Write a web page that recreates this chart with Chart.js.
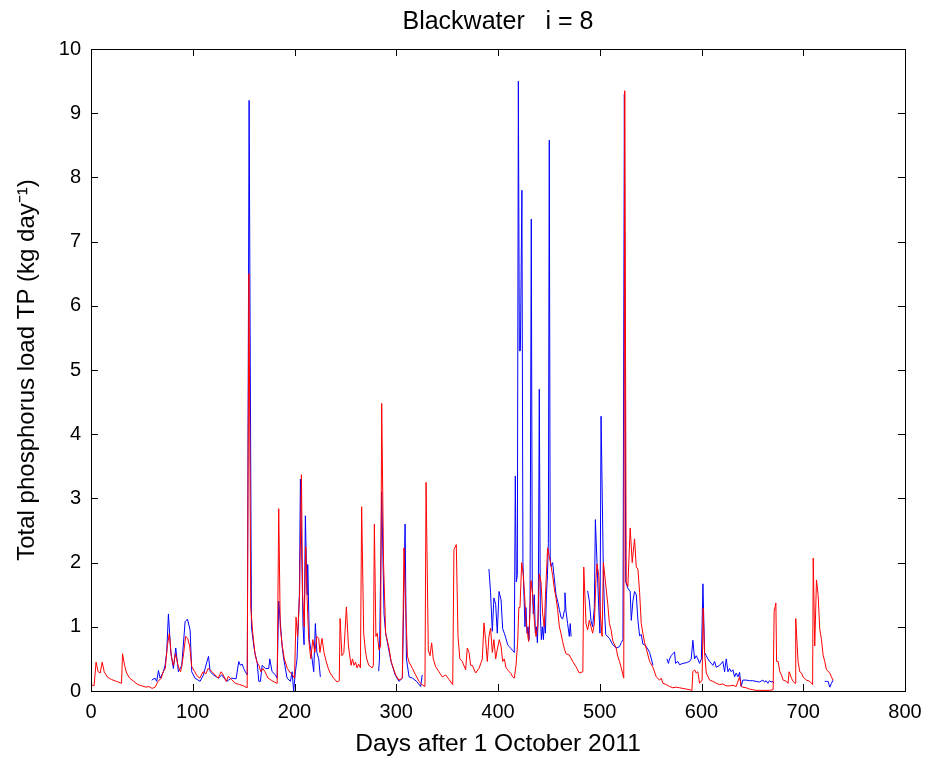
<!DOCTYPE html>
<html>
<head>
<meta charset="utf-8">
<title>Blackwater i = 8</title>
<script src="https://cdn.jsdelivr.net/npm/chart.js@4.4.1/dist/chart.umd.min.js"></script>
<style>
  html, body { margin: 0; padding: 0; background: #fff; }
  #wrap { width: 933px; height: 759px; }
</style>
</head>
<body>
<div id="wrap"><canvas id="tpChart" width="933" height="759"></canvas></div>
<script>
// days after 1 October 2011 and TP load (kg/day)
const redDays = [0, 3, 5, 7, 9, 11, 13, 16, 20, 25, 30, 31, 33, 35, 38, 42, 46, 50, 54, 57, 60, 63, 66, 69, 71, 73, 75, 77, 79, 81, 83, 86, 88, 89, 91, 93, 95, 97, 99, 102, 104, 107, 110, 113, 115, 117, 119, 122, 125, 128, 130, 133, 135, 138, 142, 146, 150, 153.5,
  155.2, 157, 159, 161, 163, 165, 167, 169, 171, 174, 177, 180, 183, 184.5, 186, 188, 190, 193, 196, 198, 200, 201.5, 203, 205, 206.8, 208, 209.5, 211, 212.5, 214, 216, 218, 220, 222, 223.8, 225, 227, 229, 231, 233, 235, 238.5, 241.8, 244, 244.8, 246.6, 248.5, 251, 253, 255.6, 257, 258.5, 260, 261.5, 263, 264.8,
  266, 268, 269.6, 271, 273, 276.3, 277.5, 278.5, 280, 281.4, 283, 284.6, 285.7, 287.5, 289.6, 291, 292.5, 295, 299.4, 302.6, 306, 307.6, 309.5, 311, 312.6, 316, 319, 322.4, 325, 328.2, 329.3, 331.5, 333.2, 334.8, 336.4, 338.7, 342, 345.3, 348.5, 351.9, 355.5, 356.7, 359, 360.7, 362.5, 364.9, 368.2, 369.8, 371.5, 373.1, 374.8, 378, 381.3, 384.6, 386.2, 387.8, 389.5, 391.1, 392.7, 394.4, 396, 397.7, 399.3,
  401.3, 403, 404.6, 406.2, 407.8, 409.5, 411.1, 412.8, 414.4, 416, 417.7, 419.3, 420.5, 421.6, 423.3, 424.9, 425.9, 427.5, 429.1, 430.1, 430.8, 432.4, 434.1, 435.7, 437.3, 439, 440.6, 442.3, 443.9, 445.5, 447.2, 448.8, 450.4, 452.1, 453.7, 455.3, 457, 458.6, 460.3, 461.9, 463.5, 465.2, 466.8, 470.1, 473.4, 476.6, 479.9, 483.4, 484.3, 486.5, 488.1, 489.8, 491.4, 493, 494.7, 496.3, 497.3, 499, 500.6, 502.3, 503.6, 505.6, 507.9, 509.5, 511.2, 512.8, 516.1, 517.7, 519.4, 521, 523.6,
  524.6, 526, 527.6, 529.9, 531.9, 534.2, 535.9, 537.5, 539.2, 540.8, 542.4, 544.1, 545.7, 549, 552.3, 555.5, 558.8, 560.4, 562.1, 565.3, 568.6, 571.9, 575.2, 578.4, 581.7, 585, 588.3, 590.6, 591.5, 593.2, 594.8, 596.4, 598.1, 600.6, 601.6, 603, 604.7, 608, 611.2, 614.5, 617.8, 621, 624.3, 627.6, 630.9, 634.1, 637.4, 639, 640.6, 643.9, 647.2, 650.5, 653.7, 657, 660.3, 663.5, 666.8, 670.4,
  671.4, 673.1, 673.8, 675.3, 677, 678.6, 680.2, 683.5, 685.1, 686.1, 688.4, 690, 691.9, 692.6, 694.9, 696.6, 698.2, 699.8, 703.1, 706.4, 709.2, 709.8, 711.3, 713, 714.6, 716.2, 717.9, 719.5, 721.1, 722.8, 726.1, 727.7, 729.3];
const redLoad = [0.1, 0.08, 0.45, 0.3, 0.28, 0.45, 0.3, 0.22, 0.18, 0.15, 0.12, 0.58, 0.4, 0.28, 0.2, 0.15, 0.1, 0.08, 0.06, 0.07, 0.04, 0.06, 0.15, 0.2, 0.3, 0.35, 0.7, 0.9, 0.54, 0.4, 0.58, 0.37, 0.3, 0.37, 0.58, 0.85, 0.82, 0.7, 0.38, 0.3, 0.24, 0.2, 0.3, 0.27, 0.35, 0.33, 0.3, 0.25, 0.2, 0.3, 0.25, 0.15, 0.23, 0.18, 0.12, 0.1, 0.08, 0.05,
  6.5, 1.3, 0.9, 0.6, 0.45, 0.4, 0.3, 0.35, 0.3, 0.2, 0.17, 0.14, 0.12, 2.84, 1.0, 0.7, 0.5, 0.35, 0.28, 0.25, 0.2, 1.15, 0.85, 1.5, 3.37, 1.5, 1.0, 2.25, 1.4, 0.8, 0.5, 0.8, 0.6, 0.85, 0.82, 0.6, 0.82, 0.6, 0.47, 0.36, 0.28, 0.2, 0.14, 0.16, 1.13, 0.55, 0.6, 1.31, 0.7, 0.4, 0.5, 0.4, 0.45, 0.36, 0.42, 0.36,
  2.87, 0.9, 0.64, 0.5, 0.4, 0.36, 0.4, 2.6, 0.85, 0.9, 0.64, 0.7, 4.48, 2.0, 0.9, 0.8, 0.7, 0.46, 0.25, 0.17, 0.2, 2.23, 1.2, 0.54, 0.45, 0.35, 0.25, 0.15, 0.1, 0.07, 3.25, 0.64, 0.55, 0.75, 0.5, 0.38, 0.3, 0.22, 0.25, 0.18, 0.1, 2.2, 2.28, 0.85, 0.5, 0.46, 0.33, 0.67, 0.6, 0.4, 0.4, 0.28, 0.35, 0.5, 1.06, 0.8, 0.46, 0.85, 0.98, 0.6, 0.8, 0.5, 0.65,
  0.8, 0.7, 0.46, 0.5, 0.37, 0.33, 0.3, 0.27, 0.22, 0.2, 0.4, 0.75, 1.3, 1.3, 2.0, 1.8, 1.56, 1.1, 0.88, 0.77, 0.97, 1.72, 1.5, 1.1, 0.85, 1.0, 1.82, 1.7, 1.2, 1.0, 1.7, 2.23, 2.1, 1.95, 1.8, 1.6, 1.45, 1.27, 1.0, 0.9, 0.77, 0.66, 0.58, 0.56, 0.46, 0.38, 0.28, 0.3, 1.93, 1.05, 0.95, 1.1, 1.0, 0.9, 1.05, 1.75, 1.98, 1.8, 1.2, 0.85, 2.0, 1.7, 1.35, 1.05, 0.95, 0.78, 0.67, 0.54, 0.46, 0.37, 0.2,
  9.35, 1.7, 1.63, 2.54, 2.0, 2.37, 1.93, 1.9, 1.53, 1.05, 0.9, 0.75, 0.66, 0.46, 0.37, 0.22, 0.17, 0.2, 0.12, 0.1, 0.07, 0.05, 0.06, 0.05, 0.04, 0.03, 0.02, 0.01, 0.3, 0.33, 0.28, 0.3, 0.12, 0.17, 1.29, 0.6, 0.28, 0.17, 0.15, 0.12, 0.1, 0.11, 0.08, 0.08, 0.09, 0.07, 0.22, 0.07, 0.06, 0.05, 0.03, 0.02, 0.01, 0.01, 0.01, 0.01, 0.01, 0.02,
  1.24, 1.37, 0.46, 0.46, 0.3, 0.25, 0.17, 0.15, 0.12, 0.3, 0.2, 0.15, 0.12, 1.13, 0.46, 0.3, 0.28, 0.22, 0.17, 0.15, 0.1, 2.07, 0.7, 1.73, 1.5, 0.97, 0.8, 0.56, 0.46, 0.33, 0.28, 0.22, 0.17];

// null = no blue value (gap in the line)
const blueDays = [59.7, 63, 64.6, 66.3, 67.9, 69.5, 71.2, 72.8, 74.4, 76.1, 78.4, 81, 83.3, 85.9, 89.2, 92.5, 94.8, 97.4, 99, 102.3, 107.2, 110.5, 113.8, 115.5, 117.1, 120.4, 125.3, 128.5, 133.4, 138, 142.6, 145.2, 146.8, 148.5, 150.1, 151.7, 153.6,
  155.4, 157.7, 160, 161.6, 163.3, 164.9, 166.5, 168.2, 171.4, 174.7, 175.7, 178, 181.3, 182.9, 184.5, 187.8, 189.4, 192.7, 196, 197.6, 199.2, 200.9, 202.5, 204.8, 205.8, 208.4, 209.4, 210.7, 212.3, 213, 214.6, 217.3, 218.9, 220.5, 222, 223.8, 225.4, 226,
  282.7, 283.5, 285.7, 288, 289.6, 292, 295, 299, 302.6, 306, 308.7, 310, 312.6, 316, 320, 324, 325.5, 326,
  391.1, 392.7, 394.4, 396, 397.7, 399.3, 401, 403, 404.6, 406.2, 407.8, 409.5, 411.1, 412.8, 414.4, 416, 417, 418, 419, 420, 421, 422, 423.5, 424.5, 425.5, 426.5, 427.5, 428.5, 429.5, 430.5, 431.5, 432.7, 433.7, 434.7, 435.7, 436.7, 437.7, 438.7, 439.6, 440.6, 441.6, 442.6, 443.6, 444.6, 445.6, 446.6, 447.6, 448.6, 449.5, 450.4, 451.3, 452.1, 453.7, 455.3, 457, 458.6, 460.3, 461.9, 463.5, 465.2, 465.8, 466.8, 468.4, 470.1, 471, 471.8, 472.5,
  488.1, 489.8, 491.4, 493, 494.7, 495.7, 497.3, 499, 500.2, 501.3, 503.6, 504.8, 505.9, 509.5, 512.8, 516.1, 519.4, 521, 522.8, 524.2, 525.5, 527.6, 529.9, 531, 532.6, 534.2, 535.9, 537.5, 539.2, 540.8, 542.4, 544.1, 545.7, 547.4, 549, 550.7, 552.3, 553,
  566, 567.5, 568.6, 570.2, 571.9, 573.5, 574.5, 576.8, 578.4, 581.7, 585, 588.3, 589.9, 591.5, 593.2, 594.8, 596.4, 598.1, 599.9, 601.4, 603, 604.7, 606.3, 608, 611.2, 612.9, 614.5, 617.8, 621, 622.7, 624.3, 626, 627.6, 629.2, 630.9, 632.5, 634.1, 635.8, 637.4, 639, 640.6, 643.9, 647.2, 650.5, 653.7, 657, 660.3, 661.9, 663.5, 665.2, 666.8, 668.4, 670.1, 671, 672,
  721.1, 722.8, 724.4, 726.1, 727.7, 729.3];
const blueLoad = [0.17, 0.2, 0.15, 0.32, 0.2, 0.25, 0.3, 0.4, 0.6, 1.2, 0.6, 0.35, 0.67, 0.3, 0.4, 1.08, 1.12, 0.95, 0.3, 0.2, 0.15, 0.25, 0.45, 0.54, 0.3, 0.25, 0.2, 0.25, 0.15, 0.2, 0.19, 0.46, 0.4, 0.42, 0.35, 0.3, 0.25,
  9.2, 1.0, 0.7, 0.55, 0.45, 0.15, 0.15, 0.4, 0.35, 0.35, 0.5, 0.3, 0.25, 0.2, 1.4, 0.7, 0.5, 0.2, 0.15, 0.3, 0.0, 0.3, 0.5, 1.5, 3.3, 1.0, 0.72, 2.73, 1.5, 1.97, 0.8, 0.5, 0.3, 1.05, 0.6, 0.5, 0.22, null,
  0.31, 0.5, 3.1, 1.2, 0.9, 0.7, 0.45, 0.25, 0.15, 0.2, 2.6, 0.5, 0.22, 0.2, 0.15, 0.07, 0.25, null,
  1.9, 1.53, 0.93, 1.45, 1.35, 0.9, 1.55, 1.42, 0.97, 0.9, 0.82, 0.72, 0.69, 0.66, 0.63, 0.6, 3.35, 1.7, 1.8, 9.5, 5.3, 5.3, 7.8, 2.0, 1.5, 1.0, 1.3, 0.9, 1.0, 0.8, 1.4, 7.35, 1.6, 1.2, 1.5, 0.9, 1.0, 0.75, 1.2, 4.7, 1.2, 0.8, 1.0, 0.8, 1.1, 0.9, 1.5, 1.8, 2.3, 8.58, 2.1, 1.94, 2.0, 1.76, 1.5, 1.4, 1.27, 1.15, 1.12, 1.25, 1.53, 1.25, 1.05, 0.85, 1.05, 0.85, null,
  1.56, 1.4, 1.1, 1.0, 1.3, 2.67, 2.0, 1.3, 0.9, 4.28, 1.8, 1.2, 0.88, 0.82, 0.72, 0.67, 0.69, 0.75, 0.8, 9.3, 1.7, 1.6, 1.55, 1.1, 1.4, 1.55, 1.5, 1.1, 0.86, 0.88, 0.73, 0.72, 0.69, 0.65, 0.6, 0.5, 0.4, null,
  0.5, 0.43, 0.5, 0.55, 0.58, 0.61, 0.43, 0.46, 0.41, 0.43, 0.44, 0.46, 0.5, 0.79, 0.5, 0.55, 0.5, 0.43, 0.5, 1.67, 0.6, 0.55, 0.5, 0.46, 0.4, 0.46, 0.37, 0.4, 0.46, 0.3, 0.5, 0.3, 0.35, 0.3, 0.33, 0.22, 0.28, 0.22, 0.29, 0.07, 0.17, 0.17, 0.16, 0.16, 0.15, 0.14, 0.17, 0.14, 0.16, 0.12, 0.16, 0.14, 0.15, 0.12, null,
  0.15, 0.15, 0.15, 0.06, 0.12, 0.17];

const xTicks = [0, 100, 200, 300, 400, 500, 600, 700, 800];
const yTicks = [0, 1, 2, 3, 4, 5, 6, 7, 8, 9, 10];
const chartTitle = 'Blackwater   i = 8';

function toPoints(days, vals) {
    return days.map((d, i) => ({ x: d, y: vals[i] }));
}

// MATLAB-like box with inward ticks on all four sides, title over the plot box
const boxTicks = {
    id: 'boxTicks',
    afterDatasetsDraw(chart) {
        const { ctx, chartArea: a, scales: { x, y } } = chart;
        const len = 7;
        ctx.save();
        ctx.strokeStyle = '#000';
        ctx.lineWidth = 1;
        ctx.beginPath();
        xTicks.forEach(v => {
            const px = Math.round(x.getPixelForValue(v)) + 0.5;
            ctx.moveTo(px, a.bottom); ctx.lineTo(px, a.bottom - len);
            ctx.moveTo(px, a.top); ctx.lineTo(px, a.top + len);
        });
        yTicks.forEach(v => {
            const py = Math.round(y.getPixelForValue(v)) + 0.5;
            ctx.moveTo(a.left, py); ctx.lineTo(a.left + len, py);
            ctx.moveTo(a.right, py); ctx.lineTo(a.right - len, py);
        });
        ctx.stroke();
        ctx.strokeRect(Math.round(a.left) + 0.5, Math.round(a.top) + 0.5,
            Math.round(a.right - a.left), Math.round(a.bottom - a.top));

        ctx.fillStyle = '#000';
        ctx.font = '25px "Liberation Sans", Arial, sans-serif';
        ctx.textAlign = 'center';
        ctx.textBaseline = 'middle';
        ctx.fillText(chartTitle, (a.left + a.right) / 2, 22);
        ctx.restore();
    }
};

Chart.defaults.color = '#000';
Chart.defaults.font.family = '"Liberation Sans", Arial, sans-serif';

new Chart(document.getElementById('tpChart'), {
    type: 'line',
    data: {
        datasets: [
            {
                label: 'red',
                data: toPoints(redDays, redLoad),
                borderColor: '#ff0000',
                borderWidth: 1,
                pointRadius: 0,
                tension: 0
            },
            {
                label: 'blue',
                data: toPoints(blueDays, blueLoad),
                borderColor: '#0000ff',
                borderWidth: 1,
                pointRadius: 0,
                tension: 0,
                spanGaps: false
            }
        ]
    },
    options: {
        responsive: false,
        animation: false,
        events: [],
        layout: { padding: { left: 0, right: 28, top: 49, bottom: 0 } },
        plugins: {
            legend: { display: false },
            tooltip: { enabled: false },
            title: { display: false }
        },
        scales: {
            x: {
                type: 'linear',
                min: 0,
                max: 800,
                afterBuildTicks: s => { s.ticks = xTicks.map(v => ({ value: v })); },
                afterFit: s => { s.height = 68; },
                grid: { display: false, drawTicks: false },
                border: { display: false },
                ticks: { font: { size: 20 }, padding: 9, maxRotation: 0 },
                title: {
                    display: true,
                    text: 'Days after 1 October 2011',
                    font: { size: 24.5 },
                    padding: { top: 0, bottom: 0 }
                }
            },
            y: {
                type: 'linear',
                min: 0,
                max: 10,
                afterBuildTicks: s => { s.ticks = yTicks.map(v => ({ value: v })); },
                afterFit: s => { s.width = 91; },
                grid: { display: false, drawTicks: false },
                border: { display: false },
                ticks: { font: { size: 20 }, padding: 10 },
                title: {
                    display: true,
                    text: 'Total phosphorus load TP (kg day\u207B\u00B9)',
                    font: { size: 24 },
                    padding: { top: 13, bottom: 0 }
                }
            }
        }
    },
    plugins: [boxTicks]
});
</script>
</body>
</html>
